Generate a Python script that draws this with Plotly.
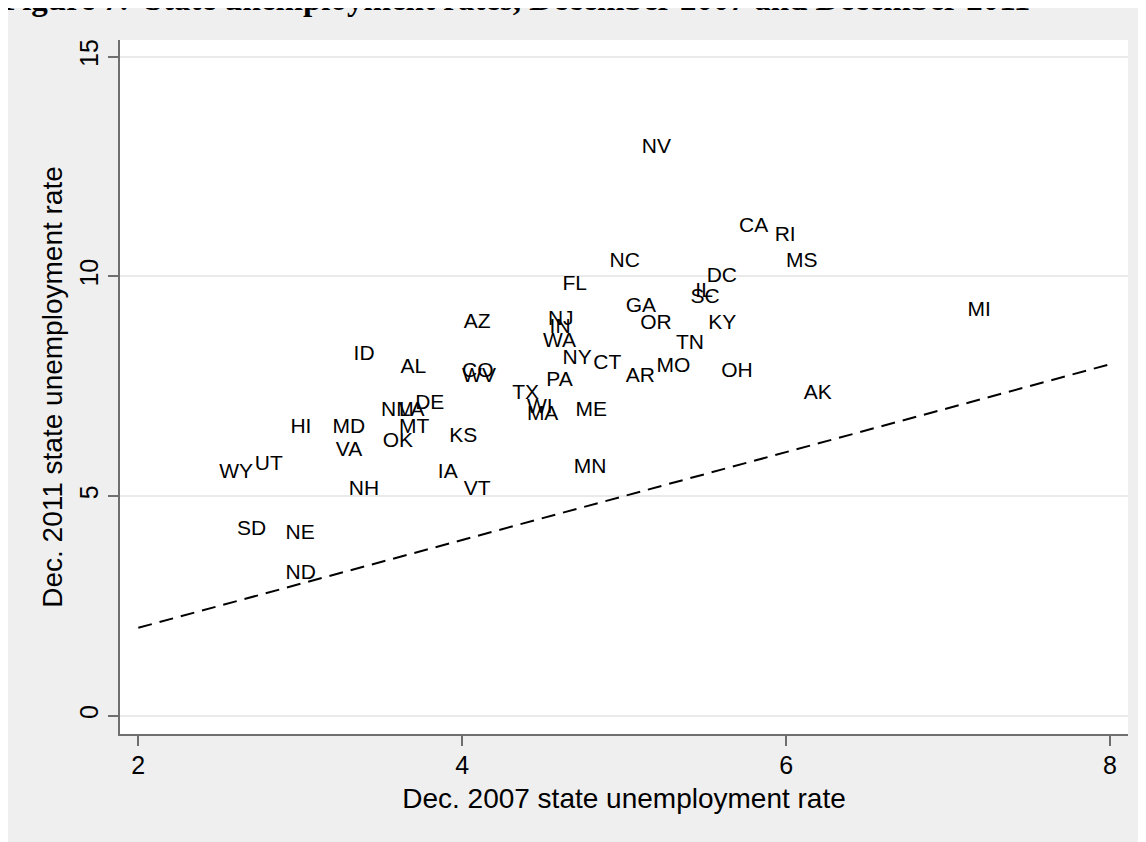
import plotly.graph_objects as go

# State labels and unemployment rates
states = ["NV", "CA", "RI", "MS", "NC", "DC", "FL", "IL", "SC", "GA",
          "OR", "KY", "NJ", "IN", "WA", "NY", "CT", "TN", "MO", "AR",
          "OH", "AK", "PA", "TX", "ME", "WI", "MA", "AZ", "ID", "AL",
          "CO", "WV", "NM", "LA", "DE", "MT", "OK", "KS", "HI", "MD",
          "VA", "WY", "UT", "NH", "IA", "VT", "MN", "SD", "NE", "ND", "MI"]

rate_dec2007 = [5.08, 5.68, 5.90, 5.97, 4.88, 5.48, 4.59, 5.41, 5.38, 4.98,
                5.07, 5.49, 4.50, 4.51, 4.47, 4.59, 4.78, 5.29, 5.17, 4.98,
                5.57, 6.08, 4.49, 4.28, 4.67, 4.37, 4.37, 3.98, 3.30, 3.59,
                3.97, 3.97, 3.47, 3.58, 3.68, 3.58, 3.48, 3.89, 2.91, 3.17,
                3.19, 2.47, 2.69, 3.27, 3.82, 3.98, 4.66, 2.58, 2.88, 2.88, 7.09]

rate_dec2011 = [12.92, 11.13, 10.92, 10.34, 10.34, 10.00, 9.82, 9.64, 9.52, 9.31,
                8.93, 8.93, 9.02, 8.84, 8.52, 8.13, 8.02, 8.46, 7.94, 7.71,
                7.84, 7.33, 7.62, 7.33, 6.94, 7.00, 6.85, 8.94, 8.22, 7.93,
                7.84, 7.72, 6.94, 6.94, 7.11, 6.56, 6.23, 6.34, 6.55, 6.55,
                6.04, 5.54, 5.72, 5.14, 5.53, 5.14, 5.65, 4.24, 4.15, 3.24, 9.22]

# 45-degree reference line endpoints
ref_line = [2, 8]

x_ticks = [2, 4, 6, 8]
y_ticks = [0, 5, 10, 15]

title_text = "Figure 7.\u00a0 State unemployment rates, December 2007 and December 2011"
x_title = "Dec. 2007 state unemployment rate"
y_title = "Dec. 2011 state unemployment rate"

SANS = "Liberation Sans, Arial, Helvetica, sans-serif"
AXIS_GREY = "#6f6f6f"

fig = go.Figure()

# labels at the right of invisible markers (Stata msymbol(none), mlabpos(3))
fig.add_trace(go.Scatter(
    x=rate_dec2007, y=rate_dec2011, text=states,
    mode="markers+text", textposition="middle right",
    marker=dict(size=6, color="rgba(0,0,0,0)"),
    textfont=dict(family=SANS, size=21, color="#000000"),
    hoverinfo="skip", showlegend=False,
))

fig.add_trace(go.Scatter(
    x=ref_line, y=ref_line, mode="lines",
    line=dict(color="#000000", width=2, dash="14px,8px"),
    hoverinfo="skip", showlegend=False,
))

# The page adds an 8px body margin around the figure.
W, H = 1146, 842
ML, MR, MT, MB = 112, 26, 32, 116
PW, PH = W - ML - MR, H - MT - MB


def px_to_paper_x(px):
    return (px - ML) / PW


def px_to_paper_y(py):
    return (H - MB - py) / PH


annotations = [
    dict(text=title_text, xref="paper", yref="paper",
         x=px_to_paper_x(-8), y=px_to_paper_y(11), xanchor="left", yanchor="bottom",
         showarrow=False,
         font=dict(family="Liberation Serif, Times New Roman, serif", size=33,
                   color="#000000", weight="bold")),
]

fig.update_layout(
    width=W, height=H, autosize=False,
    margin=dict(l=ML, r=MR, t=MT, b=MB, pad=0),
    paper_bgcolor="#efefef", plot_bgcolor="#ffffff",
    annotations=annotations,
    font=dict(family=SANS, color="#000000"),
    xaxis=dict(
        range=[1.887, 8.111], tickvals=x_ticks, ticktext=[str(v) for v in x_ticks],
        showgrid=False, zeroline=False,
        showline=True, linecolor=AXIS_GREY, linewidth=2,
        ticks="outside", ticklen=10, tickwidth=2, tickcolor=AXIS_GREY,
        ticklabelstandoff=-2,
        tickfont=dict(family=SANS, size=25, color="#000000"),
        title=dict(text=x_title, font=dict(family=SANS, size=28, color="#000000"), standoff=10),
    ),
    yaxis=dict(
        range=[-0.417, 15.381], tickvals=y_ticks, ticktext=[str(v) for v in y_ticks],
        showgrid=True, gridcolor="#eaeaea", gridwidth=2, zeroline=False,
        showline=True, linecolor=AXIS_GREY, linewidth=2,
        ticks="outside", ticklen=10, tickwidth=2, tickcolor=AXIS_GREY,
        tickangle=-90,
        tickfont=dict(family=SANS, size=25, color="#000000"),
        title=dict(text=y_title, font=dict(family=SANS, size=28, color="#000000"), standoff=4),
    ),
)

fig.write_html("out.html")
